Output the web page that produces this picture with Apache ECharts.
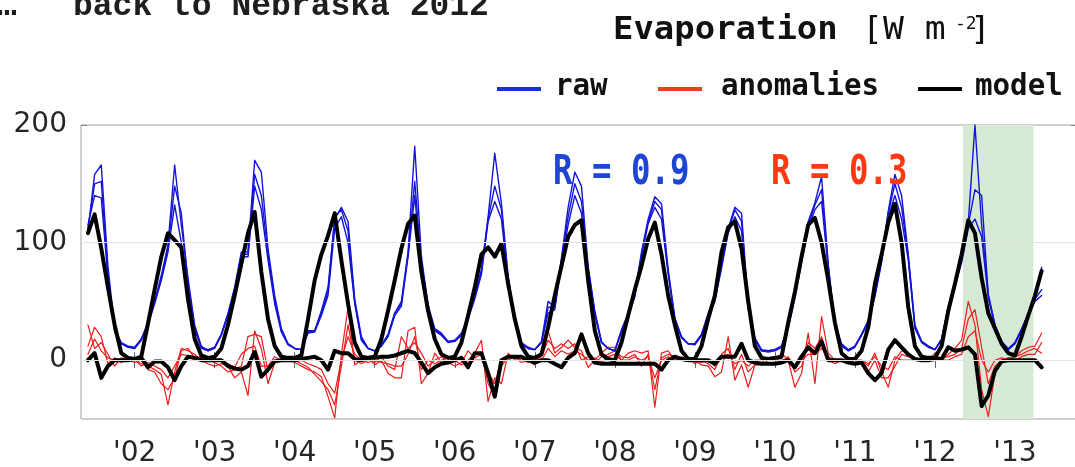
<!DOCTYPE html>
<html>
<head>
<meta charset="utf-8">
<script src="https://cdn.jsdelivr.net/npm/echarts@6/dist/echarts.min.js"></script>
<style>
html,body{margin:0;padding:0;background:#fff;}
#chart{width:1075px;height:467px;}
</style>
</head>
<body>
<div id="chart"></div>
<script>
// monthly series, June 2001 .. May 2013 (each row = Jun..May)
const startYear = 2001, startMonth = 6;

const rawA = [
 110,158,166,80,27,15,12,10,18,32,50,72,
 98,166,115,70,30,12,8,11,22,40,62,92,
 92,170,160,95,55,27,14,10,9,25,25,42,
 62,120,130,118,52,20,10,8,13,22,40,50,
 92,182,88,47,27,23,16,17,23,37,55,77,
 122,176,133,72,36,15,11,9,16,50,45,87,
 130,160,148,80,42,16,10,8,26,40,57,92,
 120,139,133,77,36,20,14,14,22,40,54,82,
 112,130,125,48,19,9,8,9,12,30,56,86,
 118,134,156,82,31,14,9,12,22,34,56,87,
 127,158,140,90,30,16,12,9,18,46,66,86,
 117,200,115,56,30,16,10,15,27,40,52,79
];
const rawB = [
 112,150,152,74,25,14,12,11,18,31,49,70,
 95,148,125,66,28,11,9,11,22,39,60,90,
 90,158,140,90,52,25,14,10,9,24,25,40,
 58,122,128,110,50,18,10,8,12,21,40,48,
 90,152,82,45,26,22,16,16,22,36,54,75,
 120,148,128,70,35,14,10,9,15,45,45,85,
 122,150,135,78,40,15,10,8,25,38,55,90,
 118,135,128,75,35,20,14,14,22,38,52,80,
 110,128,118,46,18,8,8,9,12,28,55,85,
 115,132,145,80,30,13,8,12,22,33,55,85,
 125,150,130,88,28,16,12,9,18,45,65,85,
 115,145,140,55,30,15,9,15,26,40,52,60
];
const rawC = [
 115,140,138,70,24,14,11,10,17,30,48,68,
 92,132,100,62,26,10,8,10,21,38,58,88,
 88,148,128,85,48,24,13,10,9,23,24,38,
 55,112,122,100,48,17,10,8,12,20,38,46,
 88,140,76,43,25,21,15,16,21,35,52,73,
 118,135,120,68,34,14,10,9,15,40,43,82,
 115,140,125,76,39,15,10,8,24,37,54,88,
 116,130,120,73,34,19,14,13,21,37,50,78,
 108,122,110,44,17,8,7,8,11,27,53,83,
 112,128,135,78,29,12,8,11,21,32,54,83,
 122,140,120,85,27,15,11,9,17,44,63,83,
 112,120,105,53,29,15,9,14,25,38,50,55
];
const anomA = [
 30,10,15,5,-5,2,0,0,-3,-5,-8,-12,
 -38,-10,10,8,5,0,-3,-5,-3,-5,-15,-10,
 -30,25,10,-20,-2,0,0,-2,-5,-8,-10,-14,
 -31,-49,5,45,-4,0,2,-4,0,-11,-15,-15,
 25,28,-20,-11,6,-2,0,0,-4,0,6,17,
 -35,-15,-20,6,0,0,0,-4,8,25,6,11,
 17,11,8,-6,0,6,11,11,0,6,8,6,
 8,-40,6,8,0,3,0,0,-4,-5,-14,-10,
 20,-17,-4,-23,-4,-4,0,0,6,0,-23,-11,
 23,-20,37,6,0,0,0,-2,0,-5,6,-10,
 -23,0,8,6,0,0,0,6,0,5,10,17,
 50,30,-25,-48,-11,0,0,3,8,11,12,23
];
const anomB = [
 12,28,20,-3,2,-2,1,-2,0,-8,-10,-20,
 -25,-15,8,10,2,3,0,-2,-5,-10,-8,-5,
 20,22,20,-10,0,0,0,0,-3,-6,-12,-18,
 -25,-38,-5,30,0,-3,0,-2,3,-5,-8,20,
 10,15,6,-5,0,3,-2,-5,-2,8,2,5,
 -20,-30,-5,3,2,-2,0,0,3,17,10,14,
 10,14,0,3,-3,3,5,8,3,2,5,-5,
 5,-25,2,5,3,0,2,-3,0,-3,-8,5,
 10,-8,5,-10,-4,-2,2,3,-3,3,-10,-5,
 15,10,20,0,-3,0,2,0,-3,-10,0,-15,
 -15,-5,5,3,2,0,0,3,2,3,5,10,
 35,43,11,-20,-5,0,2,3,5,8,10,6
];
const anomC = [
 5,18,8,2,0,0,-1,1,-5,-2,-5,-8,
 -15,-5,5,4,0,2,2,0,-1,-3,-6,5,
 10,12,-5,-5,3,0,0,3,0,-3,-5,-8,
 -20,-28,0,20,5,0,-2,0,-2,-3,-5,-5,
 5,20,-8,0,-3,0,2,0,3,-3,0,0,
 -10,-20,0,0,3,0,-2,2,0,10,3,8,
 5,8,5,0,2,-2,3,5,0,0,3,0,
 3,-15,0,3,0,2,0,0,-2,0,-5,3,
 5,-3,0,-5,0,0,0,0,0,2,-5,0,
 5,5,10,3,0,0,0,0,0,-3,3,-5,
 -8,3,0,0,0,0,2,0,0,0,3,5,
 20,25,0,-10,0,2,0,0,3,5,5,15
];
const modelRaw = [
 108,124,95,62,30,6,2,1,3,31,60,88,
 108,102,96,52,18,4,2,3,10,30,55,82,
 108,126,75,35,12,3,2,2,4,35,68,90,
 106,125,85,48,15,3,2,3,18,42,68,95,
 116,123,75,42,18,5,2,3,15,38,62,90,
 96,88,99,65,35,12,3,2,5,28,55,80,
 105,115,119,68,25,5,1,0,15,38,60,80,
 103,117,90,55,30,8,1,1,12,35,55,92,
 113,118,95,50,12,2,1,2,3,32,58,88,
 115,121,100,68,32,6,1,1,8,28,65,90,
 117,133,100,45,12,3,2,2,12,42,65,90,
 119,108,70,40,27,14,6,4,20,38,55,76
];
const modelAnom = [
 0,6,-15,-5,0,0,0,1,2,-6,-1,-1,
 -6,-17,-5,3,2,0,0,0,0,-5,-7,-8,
 -5,7,-14,-8,-1,0,0,0,1,2,3,0,
 -8,8,6,6,1,0,2,2,3,3,4,6,
 8,6,-2,-11,-6,-3,-2,0,2,-6,6,6,
 -11,-31,0,3,3,3,0,-2,0,0,-3,-6,
 2,6,22,6,-2,-3,-3,-3,-3,-3,-3,-3,
 -3,-3,-8,0,3,1,0,0,0,0,-3,3,
 3,3,14,0,-2,-3,-3,-3,-2,0,-6,3,
 11,6,16,0,0,0,-2,-3,-2,-11,-17,-11,
 9,17,11,5,1,0,0,1,1,11,8,9,
 11,5,-39,-30,-9,-1,0,0,0,0,0,-6
];

const yearTicks  = [2002,2003,2004,2005,2006,2007,2008,2009,2010,2011,2012,2013];
const yearLabels = ["'02","'03","'04","'05","'06","'07","'08","'09","'10","'11","'12","'13"];
const yTickValues = [0,100,200];
const highlight = [2012.35, 2013.23];   // shaded period (decimal years)

function monthX(i){ return startYear + (startMonth - 1 + i) / 12; }
function pairs(arr){ return arr.map((v,i)=>[monthX(i), v]); }

const BLUE = '#1414d8', RED = '#ee1c1c', BLACK = '#000000';
const MONO = '"DejaVu Sans Mono", monospace';

function lineSeries(name, arr, color, width, z){
  return { type:'line', name, data:pairs(arr), showSymbol:false, symbol:'none',
    lineStyle:{color, width, join:'round', cap:'round'}, itemStyle:{color}, z, silent:true };
}

const X_MIN = 2001.33, X_MAX = 2013.775;

const chart = echarts.init(document.getElementById('chart'), null, {renderer:'canvas'});
chart.setOption({
  animation:false,
  backgroundColor:'#ffffff',
  grid:{left:81, right:-2, top:125, bottom:48, show:true, borderColor:'#a0a0a0', borderWidth:1,
        backgroundColor:'transparent', outerBoundsMode:'none', containLabel:false},
  xAxis:[{
    type:'value', min:X_MIN, max:X_MAX, position:'bottom',
    axisLine:{show:false},
    axisTick:{show:true, inside:true, length:8, lineStyle:{color:'#666', width:1}, customValues:yearTicks},
    axisLabel:{customValues:yearTicks, formatter:(v)=>yearLabels[yearTicks.indexOf(Math.round(v))] || '',
      fontFamily:'"DejaVu Sans", sans-serif', fontSize:28, color:'#262626', margin:21},
    splitLine:{show:false}
  },{
    type:'value', min:X_MIN, max:X_MAX, position:'top',
    axisLine:{show:false},
    axisTick:{show:true, inside:true, length:8, lineStyle:{color:'#666', width:1}, customValues:yearTicks},
    axisLabel:{show:false}, splitLine:{show:false}
  }],
  yAxis:[{
    type:'value', min:-50, max:200, position:'left',
    axisLine:{show:false},
    axisTick:{show:true, inside:true, length:6, lineStyle:{color:'#888'}, customValues:yTickValues},
    axisLabel:{customValues:yTickValues, fontFamily:'"DejaVu Sans", sans-serif', fontSize:28, color:'#262626', margin:14},
    splitLine:{show:false}
  },{
    type:'value', min:-50, max:200, position:'right',
    axisLine:{show:false},
    axisTick:{show:true, inside:true, length:6, lineStyle:{color:'#888'}, customValues:yTickValues},
    axisLabel:{show:false}, splitLine:{show:false}
  }],
  series:[
    { type:'line', name:'bg', data:[], z:0, silent:true,
      markArea:{silent:true, itemStyle:{color:'#d6e9d4'}, data:[[{xAxis:highlight[0]},{xAxis:highlight[1]}]]},
      markLine:{silent:true, symbol:['none','none'], label:{show:false},
        lineStyle:{color:'#e3e3e3', width:1, type:'solid'}, data:[{yAxis:100},{yAxis:0}]}
    },
    lineSeries('anomalies', anomC, RED, 1.2, 2),
    lineSeries('anomalies', anomB, RED, 1.2, 2),
    lineSeries('anomalies', anomA, RED, 1.2, 2),
    lineSeries('raw', rawC, BLUE, 1.4, 3),
    lineSeries('raw', rawB, BLUE, 1.4, 3),
    lineSeries('raw', rawA, BLUE, 1.4, 3),
    lineSeries('model', modelAnom, BLACK, 4, 4),
    lineSeries('model', modelRaw, BLACK, 4, 4)
  ],
  graphic:[
    {type:'text', x:-3, y:7, style:{text:'…', font:'bold 33px "Liberation Mono", monospace', fill:'#1e1e1e', align:'left', verticalAlign:'middle'}},
    {type:'text', x:73, y:7, style:{text:'back to Nebraska 2012', font:'bold 33px "Liberation Mono", monospace', fill:'#1e1e1e', align:'left', verticalAlign:'middle'}},

    {type:'text', x:613, y:31, scaleX:1.17, scaleY:1.12, style:{text:'Evaporation', font:'bold 29px '+MONO, fill:'#111', align:'left', verticalAlign:'middle'}},
    {type:'text', x:862, y:31, scaleX:1.2, scaleY:1.12, style:{text:'[W m', font:'29px '+MONO, fill:'#111', align:'left', verticalAlign:'middle'}},
    {type:'text', x:955, y:24, style:{text:'-2', font:'18px '+MONO, fill:'#111', align:'left', verticalAlign:'middle'}},
    {type:'text', x:970, y:31, scaleX:1.2, scaleY:1.12, style:{text:']', font:'29px '+MONO, fill:'#111', align:'left', verticalAlign:'middle'}},

    {type:'line', shape:{x1:497, y1:89, x2:541, y2:89}, style:{stroke:'#1a2fd8', lineWidth:4}},
    {type:'text', x:555, y:87, scaleX:1.08, scaleY:1.1, style:{text:'raw', font:'bold 27px '+MONO, fill:'#111', align:'left', verticalAlign:'middle'}},
    {type:'line', shape:{x1:658, y1:89, x2:702, y2:89}, style:{stroke:'#f03c1e', lineWidth:4}},
    {type:'text', x:721, y:87, scaleX:1.08, scaleY:1.1, style:{text:'anomalies', font:'bold 27px '+MONO, fill:'#111', align:'left', verticalAlign:'middle'}},
    {type:'line', shape:{x1:918, y1:89, x2:962, y2:89}, style:{stroke:'#000', lineWidth:4}},
    {type:'text', x:975, y:87, scaleX:1.08, scaleY:1.1, style:{text:'model', font:'bold 27px '+MONO, fill:'#111', align:'left', verticalAlign:'middle'}},

    {type:'text', x:553, y:174, scaleX:0.81, z:100, style:{text:'R = 0.9', font:'bold 40px '+MONO, fill:'#1f46d2', align:'left', verticalAlign:'middle'}},
    {type:'text', x:771, y:174, scaleX:0.81, z:100, style:{text:'R = 0.3', font:'bold 40px '+MONO, fill:'#ff3a12', align:'left', verticalAlign:'middle'}}
  ]
});
</script>
</body>
</html>
